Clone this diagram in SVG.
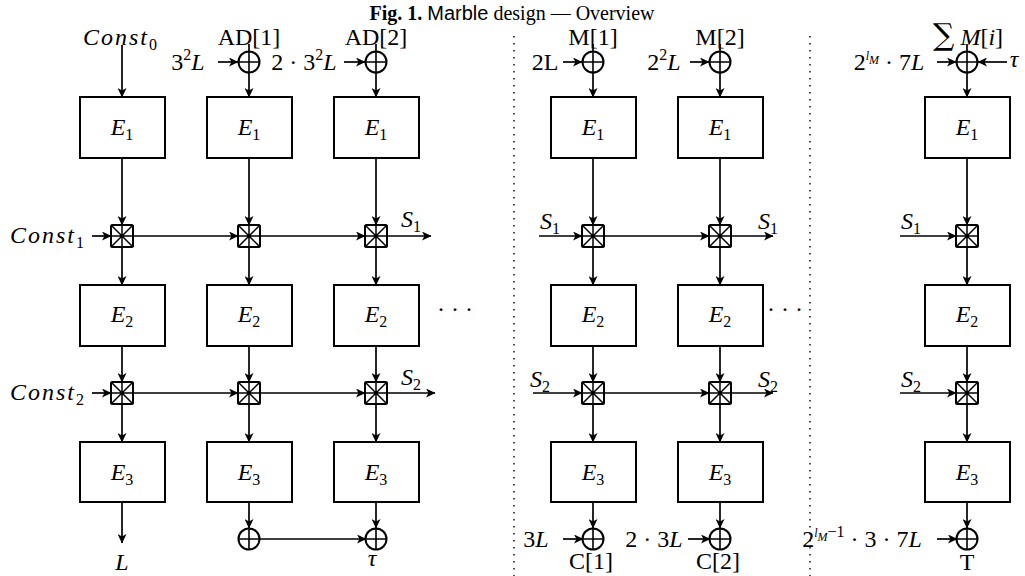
<svg xmlns="http://www.w3.org/2000/svg" width="1025" height="576" viewBox="0 0 1025 576">
<defs>
<marker id="ah" markerWidth="10" markerHeight="9" refX="9" refY="4.5" orient="auto" markerUnits="userSpaceOnUse">
<path d="M0,0 L9.5,4.5 L0,9 L2.5,4.5 Z" fill="#000"/>
</marker>
<g id="mix"><rect x="-11" y="-11" width="22" height="22" rx="1.5" fill="#fff" stroke="#000" stroke-width="2"/><path d="M-11,-11 L11,11 M11,-11 L-11,11 M0,-11 V11 M-11,0 H11" stroke="#000" stroke-width="1.5"/></g>
<g id="xor"><circle r="10.5" fill="#fff" stroke="#000" stroke-width="2"/><path d="M0,-10.5 V10.5 M-10.5,0 H10.5" stroke="#000" stroke-width="1.6"/></g>
</defs>
<style>
text{font-family:"Liberation Serif","Times New Roman",serif;font-size:24px;fill:#000}
.m{font-style:italic}
.cst{font-style:italic;letter-spacing:2px}
.sub{font-size:16px;font-style:normal;letter-spacing:0}
.sup{font-size:16px;font-style:normal}
.ss{font-size:12px;font-style:italic}
.ttl{font-size:20px}
.sans{font-family:"Liberation Sans",Arial,sans-serif}
.box{fill:#fff;stroke:#000;stroke-width:2}
.c line{stroke:#000;stroke-width:1.7;fill:none}
.a{marker-end:url(#ah)}
.dot{stroke:#000;stroke-width:1.4;stroke-dasharray:1.4 5.6;fill:none}
</style>
<rect width="1025" height="576" fill="#fff"/>
<text id="title" x="512" y="20" text-anchor="middle" class="ttl"><tspan font-weight="bold">Fig. 1.</tspan> <tspan class="sans">Marble</tspan> design — Overview</text>

<g id="separators">
<line class="dot" x1="514" y1="36" x2="514" y2="576"/>
<line class="dot" x1="810" y1="36" x2="810" y2="576"/>
</g>

<g class="c" id="connectors">
<line class="a" x1="122" y1="45" x2="122" y2="97"/>
<line x1="249" y1="44" x2="249" y2="52"/><line class="a" x1="249" y1="72" x2="249" y2="97"/>
<line x1="376" y1="44" x2="376" y2="52"/><line class="a" x1="376" y1="72" x2="376" y2="97"/>
<line x1="593" y1="44" x2="593" y2="52"/><line class="a" x1="593" y1="72" x2="593" y2="97"/>
<line x1="720" y1="44" x2="720" y2="52"/><line class="a" x1="720" y1="72" x2="720" y2="97"/>
<line x1="967" y1="44" x2="967" y2="52"/><line class="a" x1="967" y1="72" x2="967" y2="97"/>
<line class="a" x1="218" y1="62" x2="238" y2="62"/>
<line class="a" x1="344" y1="62" x2="365" y2="62"/>
<line class="a" x1="563" y1="62" x2="582" y2="62"/>
<line class="a" x1="690" y1="62" x2="709" y2="62"/>
<line class="a" x1="937" y1="62" x2="956" y2="62"/>
<line class="a" x1="1007" y1="62" x2="978" y2="62"/>
<line class="a" x1="122" y1="158" x2="122" y2="225"/><line class="a" x1="122" y1="247" x2="122" y2="285"/>
<line class="a" x1="122" y1="346" x2="122" y2="382"/><line class="a" x1="122" y1="404" x2="122" y2="442"/>
<line class="a" x1="249" y1="158" x2="249" y2="225"/><line class="a" x1="249" y1="247" x2="249" y2="285"/>
<line class="a" x1="249" y1="346" x2="249" y2="382"/><line class="a" x1="249" y1="404" x2="249" y2="442"/>
<line class="a" x1="376" y1="158" x2="376" y2="225"/><line class="a" x1="376" y1="247" x2="376" y2="285"/>
<line class="a" x1="376" y1="346" x2="376" y2="382"/><line class="a" x1="376" y1="404" x2="376" y2="442"/>
<line class="a" x1="593" y1="158" x2="593" y2="225"/><line class="a" x1="593" y1="247" x2="593" y2="285"/>
<line class="a" x1="593" y1="346" x2="593" y2="382"/><line class="a" x1="593" y1="404" x2="593" y2="442"/>
<line class="a" x1="720" y1="158" x2="720" y2="225"/><line class="a" x1="720" y1="247" x2="720" y2="285"/>
<line class="a" x1="720" y1="346" x2="720" y2="382"/><line class="a" x1="720" y1="404" x2="720" y2="442"/>
<line class="a" x1="967" y1="158" x2="967" y2="225"/><line class="a" x1="967" y1="247" x2="967" y2="285"/>
<line class="a" x1="967" y1="346" x2="967" y2="382"/><line class="a" x1="967" y1="404" x2="967" y2="442"/>
<line class="a" x1="92" y1="236" x2="111" y2="236"/>
<line class="a" x1="133" y1="236" x2="238" y2="236"/>
<line class="a" x1="260" y1="236" x2="365" y2="236"/>
<line class="a" x1="387" y1="236" x2="431" y2="236"/>
<line class="a" x1="539" y1="236" x2="582" y2="236"/>
<line class="a" x1="604" y1="236" x2="709" y2="236"/>
<line class="a" x1="731" y1="236" x2="773" y2="236"/>
<line class="a" x1="900" y1="236" x2="956" y2="236"/>
<line class="a" x1="92" y1="393" x2="111" y2="393"/>
<line class="a" x1="133" y1="393" x2="238" y2="393"/>
<line class="a" x1="260" y1="393" x2="365" y2="393"/>
<line class="a" x1="387" y1="393" x2="435" y2="393"/>
<line class="a" x1="533" y1="393" x2="582" y2="393"/>
<line class="a" x1="604" y1="393" x2="709" y2="393"/>
<line class="a" x1="731" y1="393" x2="773" y2="393"/>
<line class="a" x1="900" y1="393" x2="956" y2="393"/>
<line class="a" x1="122" y1="502" x2="122" y2="543"/>
<line class="a" x1="249" y1="502" x2="249" y2="528"/>
<line class="a" x1="376" y1="502" x2="376" y2="528"/>
<line class="a" x1="593" y1="502" x2="593" y2="528"/>
<line class="a" x1="720" y1="502" x2="720" y2="528"/>
<line class="a" x1="967" y1="502" x2="967" y2="528"/>
<line class="a" x1="260" y1="539" x2="366" y2="539"/>
<line class="a" x1="563" y1="539" x2="583" y2="539"/>
<line class="a" x1="688" y1="539" x2="710" y2="539"/>
<line class="a" x1="937" y1="539" x2="957" y2="539"/>
</g>

<g id="E1_c1"><rect class="box" x="80" y="97" width="85" height="61"/><text x="122" y="135" text-anchor="middle" class="m">E<tspan class="sub" dy="5">1</tspan></text></g>
<g id="E1_c2"><rect class="box" x="207" y="97" width="85" height="61"/><text x="249" y="135" text-anchor="middle" class="m">E<tspan class="sub" dy="5">1</tspan></text></g>
<g id="E1_c3"><rect class="box" x="334" y="97" width="85" height="61"/><text x="376" y="135" text-anchor="middle" class="m">E<tspan class="sub" dy="5">1</tspan></text></g>
<g id="E1_c4"><rect class="box" x="551" y="97" width="85" height="61"/><text x="593" y="135" text-anchor="middle" class="m">E<tspan class="sub" dy="5">1</tspan></text></g>
<g id="E1_c5"><rect class="box" x="678" y="97" width="85" height="61"/><text x="720" y="135" text-anchor="middle" class="m">E<tspan class="sub" dy="5">1</tspan></text></g>
<g id="E1_c6"><rect class="box" x="925" y="97" width="85" height="61"/><text x="967" y="135" text-anchor="middle" class="m">E<tspan class="sub" dy="5">1</tspan></text></g>

<g id="E2_c1"><rect class="box" x="80" y="285" width="85" height="61"/><text x="122" y="322" text-anchor="middle" class="m">E<tspan class="sub" dy="5">2</tspan></text></g>
<g id="E2_c2"><rect class="box" x="207" y="285" width="85" height="61"/><text x="249" y="322" text-anchor="middle" class="m">E<tspan class="sub" dy="5">2</tspan></text></g>
<g id="E2_c3"><rect class="box" x="334" y="285" width="85" height="61"/><text x="376" y="322" text-anchor="middle" class="m">E<tspan class="sub" dy="5">2</tspan></text></g>
<g id="E2_c4"><rect class="box" x="551" y="285" width="85" height="61"/><text x="593" y="322" text-anchor="middle" class="m">E<tspan class="sub" dy="5">2</tspan></text></g>
<g id="E2_c5"><rect class="box" x="678" y="285" width="85" height="61"/><text x="720" y="322" text-anchor="middle" class="m">E<tspan class="sub" dy="5">2</tspan></text></g>
<g id="E2_c6"><rect class="box" x="925" y="285" width="85" height="61"/><text x="967" y="322" text-anchor="middle" class="m">E<tspan class="sub" dy="5">2</tspan></text></g>

<g id="E3_c1"><rect class="box" x="80" y="442" width="85" height="60"/><text x="122" y="480" text-anchor="middle" class="m">E<tspan class="sub" dy="5">3</tspan></text></g>
<g id="E3_c2"><rect class="box" x="207" y="442" width="85" height="60"/><text x="249" y="480" text-anchor="middle" class="m">E<tspan class="sub" dy="5">3</tspan></text></g>
<g id="E3_c3"><rect class="box" x="334" y="442" width="85" height="60"/><text x="376" y="480" text-anchor="middle" class="m">E<tspan class="sub" dy="5">3</tspan></text></g>
<g id="E3_c4"><rect class="box" x="551" y="442" width="85" height="60"/><text x="593" y="480" text-anchor="middle" class="m">E<tspan class="sub" dy="5">3</tspan></text></g>
<g id="E3_c5"><rect class="box" x="678" y="442" width="85" height="60"/><text x="720" y="480" text-anchor="middle" class="m">E<tspan class="sub" dy="5">3</tspan></text></g>
<g id="E3_c6"><rect class="box" x="925" y="442" width="85" height="60"/><text x="967" y="480" text-anchor="middle" class="m">E<tspan class="sub" dy="5">3</tspan></text></g>

<g id="mix1_c1"><use href="#mix" x="122" y="236"/></g>
<g id="mix1_c2"><use href="#mix" x="249" y="236"/></g>
<g id="mix1_c3"><use href="#mix" x="376" y="236"/></g>
<g id="mix1_c4"><use href="#mix" x="593" y="236"/></g>
<g id="mix1_c5"><use href="#mix" x="720" y="236"/></g>
<g id="mix1_c6"><use href="#mix" x="967" y="236"/></g>
<g id="mix2_c1"><use href="#mix" x="122" y="393"/></g>
<g id="mix2_c2"><use href="#mix" x="249" y="393"/></g>
<g id="mix2_c3"><use href="#mix" x="376" y="393"/></g>
<g id="mix2_c4"><use href="#mix" x="593" y="393"/></g>
<g id="mix2_c5"><use href="#mix" x="720" y="393"/></g>
<g id="mix2_c6"><use href="#mix" x="967" y="393"/></g>

<g id="xor_top_c2"><use href="#xor" x="249" y="62"/></g>
<g id="xor_top_c3"><use href="#xor" x="376" y="62"/></g>
<g id="xor_top_c4"><use href="#xor" x="593" y="62"/></g>
<g id="xor_top_c5"><use href="#xor" x="720" y="62"/></g>
<g id="xor_top_c6"><use href="#xor" x="967" y="62"/></g>
<g id="xor_bot_c2"><use href="#xor" x="249" y="539"/></g>
<g id="xor_bot_c3"><use href="#xor" x="376" y="539"/></g>
<g id="xor_bot_c4"><use href="#xor" x="593" y="539"/></g>
<g id="xor_bot_c5"><use href="#xor" x="720" y="539"/></g>
<g id="xor_bot_c6"><use href="#xor" x="967" y="539"/></g>

<g id="labels">
<text x="120" y="45" text-anchor="middle" class="cst">Const<tspan class="sub" dy="5">0</tspan></text>
<text x="249" y="45" text-anchor="middle">AD[1]</text>
<text x="376" y="45" text-anchor="middle">AD[2]</text>
<text x="188" y="70" text-anchor="middle">3<tspan class="sup" dy="-10">2</tspan><tspan class="m" dy="10">L</tspan></text>
<text x="304" y="70" text-anchor="middle">2 · 3<tspan class="sup" dy="-10">2</tspan><tspan class="m" dy="10">L</tspan></text>
<text x="47" y="243" text-anchor="middle" class="cst">Const<tspan class="sub" dy="5">1</tspan></text>
<text x="47" y="400" text-anchor="middle" class="cst">Const<tspan class="sub" dy="5">2</tspan></text>
<text x="411" y="227" text-anchor="middle" class="m">S<tspan class="sub" dy="5">1</tspan></text>
<text x="411" y="385" text-anchor="middle" class="m">S<tspan class="sub" dy="5">2</tspan></text>
<text x="455" y="317" text-anchor="middle">· · ·</text>
<text x="122" y="570" text-anchor="middle" class="m">L</text>
<text x="372" y="566" text-anchor="middle" class="m">τ</text>

<text x="593" y="45" text-anchor="middle">M[1]</text>
<text x="720" y="45" text-anchor="middle">M[2]</text>
<text x="545" y="70" text-anchor="middle">2L</text>
<text x="664" y="70" text-anchor="middle">2<tspan class="sup" dy="-10">2</tspan><tspan class="m" dy="10">L</tspan></text>
<text x="550" y="229" text-anchor="middle" class="m">S<tspan class="sub" dy="5">1</tspan></text>
<text x="768" y="229" text-anchor="middle" class="m">S<tspan class="sub" dy="5">1</tspan></text>
<text x="540" y="387" text-anchor="middle" class="m">S<tspan class="sub" dy="5">2</tspan></text>
<text x="768" y="387" text-anchor="middle" class="m">S<tspan class="sub" dy="5">2</tspan></text>
<text x="785" y="317" text-anchor="middle">· · ·</text>
<text x="536" y="547" text-anchor="middle">3<tspan class="m">L</tspan></text>
<text x="654" y="547" text-anchor="middle">2 · 3<tspan class="m">L</tspan></text>
<text x="591" y="569" text-anchor="middle">C[1]</text>
<text x="718" y="569" text-anchor="middle">C[2]</text>

<text x="968" y="45" text-anchor="middle"><tspan font-size="30" font-family="DejaVu Serif, serif">∑</tspan><tspan class="m"> M</tspan>[<tspan class="m">i</tspan>]</text>
<text x="889" y="70" text-anchor="middle">2<tspan class="ss" font-size="16" dy="-10">l</tspan><tspan class="ss" dy="4">M</tspan><tspan dy="6">  · 7</tspan><tspan class="m">L</tspan></text>
<text x="1014" y="67" text-anchor="middle" class="m">τ</text>
<text x="911" y="229" text-anchor="middle" class="m">S<tspan class="sub" dy="5">1</tspan></text>
<text x="911" y="387" text-anchor="middle" class="m">S<tspan class="sub" dy="5">2</tspan></text>
<text x="862" y="547" text-anchor="middle">2<tspan class="ss" font-size="16" dy="-10">l</tspan><tspan class="ss" dy="4">M</tspan><tspan class="sup" font-size="14" dy="-4">−1</tspan><tspan dy="10">  · 3 · 7</tspan><tspan class="m">L</tspan></text>
<text x="967" y="570" text-anchor="middle">T</text>
</g>
</svg>
